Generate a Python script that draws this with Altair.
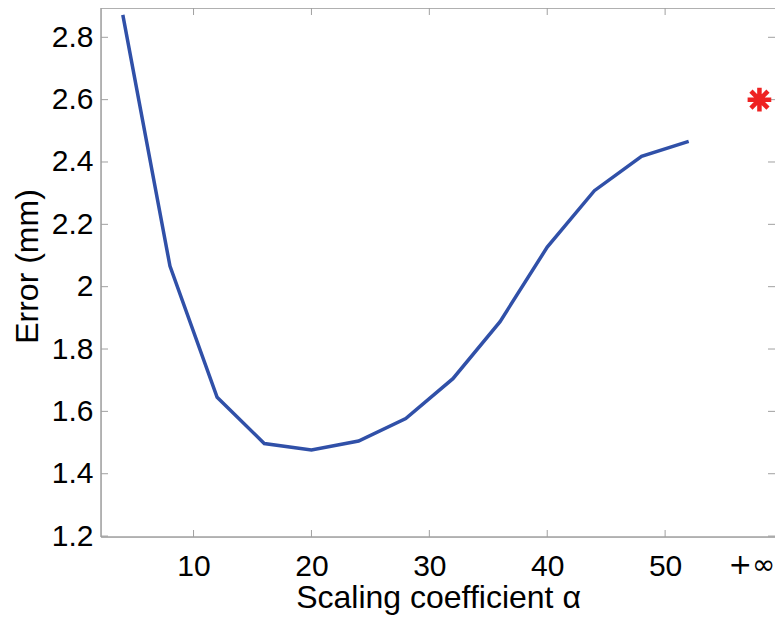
import altair as alt
import pandas as pd

alpha = [4, 8, 12, 16, 20, 24, 28, 32, 36, 40, 44, 48, 52]
error = [2.872, 2.066, 1.645, 1.497, 1.476, 1.505, 1.577, 1.705, 1.888, 2.127, 2.308, 2.418, 2.466]
inf_alpha = [58]
inf_error = [2.6]
x_ticks = [10, 20, 30, 40, 50]
x_label_values = [10, 20, 30, 40, 50, 58]
y_ticks = [1.2, 1.4, 1.6, 1.8, 2.0, 2.2, 2.4, 2.6, 2.8]

W, H = 674, 529
FONT = "Liberation Sans"
GRAY = "#a0a0a0"
XDOM = [2.15, 59.32]
YDOM = [1.197, 2.894]

line_df = pd.DataFrame({"alpha": alpha, "error": error})
inf_df = pd.DataFrame({"alpha": inf_alpha, "error": inf_error})
xt_df = pd.DataFrame({"alpha": x_ticks})
yt_df = pd.DataFrame({"error": y_ticks})
one = pd.DataFrame({"k": [0]})

xscale = alt.Scale(domain=XDOM, nice=False, zero=False)
yscale = alt.Scale(domain=YDOM, nice=False, zero=False)

xaxis = alt.Axis(
    values=x_label_values,
    labelExpr="datum.value == 58 ? '+∞' : format(datum.value, '~g')",
    ticks=False, tickSize=0, domain=False, grid=False,
    labelFont={"condition": {"test": "datum.value == 58", "value": "DejaVu Sans"}, "value": FONT},
    labelFontSize={"condition": {"test": "datum.value == 58", "value": 28}, "value": 30},
    labelOffset={"condition": {"test": "datum.value == 58", "value": -8}, "value": 0},
    labelColor="black", labelPadding=14,
    title="Scaling coefficient α", titleFont=FONT, titleFontSize=32,
    titleFontWeight="normal", titleColor="black", titlePadding=1,
    labelFlush=False,
)
yaxis = alt.Axis(
    values=y_ticks,
    labelExpr="format(datum.value, '~g')",
    ticks=False, tickSize=0, domain=False, grid=False,
    labelFont=FONT, labelFontSize=30, labelColor="black", labelPadding=8,
    title="Error (mm)", titleFont=FONT, titleFontSize=32,
    titleFontWeight="normal", titleColor="black",
    titleX=-64, titleY=258, titleBaseline="alphabetic", titleAlign="center", titleAngle=270,
    labelFlush=False,
)

line = alt.Chart(line_df).mark_line(color="#3050A8", strokeWidth=3.5).encode(
    x=alt.X("alpha:Q", scale=xscale, axis=xaxis),
    y=alt.Y("error:Q", scale=yscale, axis=yaxis),
)

star_path = "M-1,0L1,0M0,-1L0,1M-0.72,-0.72L0.72,0.72M-0.72,0.72L0.72,-0.72"
star = alt.Chart(inf_df).mark_point(
    shape=star_path, filled=False, stroke="#EE2222", strokeWidth=4.5, size=560, opacity=1
).encode(
    x=alt.X("alpha:Q", scale=xscale),
    y=alt.Y("error:Q", scale=yscale),
)

tk = 7
xt_bottom = alt.Chart(xt_df).mark_rule(color=GRAY, strokeWidth=1).encode(
    x=alt.X("alpha:Q", scale=xscale), y=alt.value(H), y2=alt.value(H - tk)
)
xt_top = alt.Chart(xt_df).mark_rule(color=GRAY, strokeWidth=1).encode(
    x=alt.X("alpha:Q", scale=xscale), y=alt.value(0), y2=alt.value(tk)
)
yt_left = alt.Chart(yt_df).mark_rule(color=GRAY, strokeWidth=1).encode(
    y=alt.Y("error:Q", scale=yscale), x=alt.value(0), x2=alt.value(tk)
)
yt_right = alt.Chart(yt_df).mark_rule(color=GRAY, strokeWidth=1).encode(
    y=alt.Y("error:Q", scale=yscale), x=alt.value(W), x2=alt.value(W - tk)
)
border_left = alt.Chart(one).mark_rule(color=GRAY, strokeWidth=1.5).encode(
    x=alt.value(0), y=alt.value(0), y2=alt.value(H)
)
border_top = alt.Chart(one).mark_rule(color=GRAY, strokeWidth=1.5).encode(
    x=alt.value(0), x2=alt.value(W), y=alt.value(0)
)
border_bottom = alt.Chart(one).mark_rule(color=GRAY, strokeWidth=1.5).encode(
    x=alt.value(0), x2=alt.value(W), y=alt.value(H)
)

chart = alt.layer(
    border_left, border_top, border_bottom,
    xt_bottom, xt_top, yt_left, yt_right, line, star
).properties(
    width=W, height=H,
    autosize=alt.AutoSizeParams(type="none"),
    padding={"left": 93, "top": 0, "right": 0, "bottom": 80},
).configure_view(stroke=None).configure(background="white")

chart.save("out.html", embed_options={"renderer": "svg", "actions": False})
